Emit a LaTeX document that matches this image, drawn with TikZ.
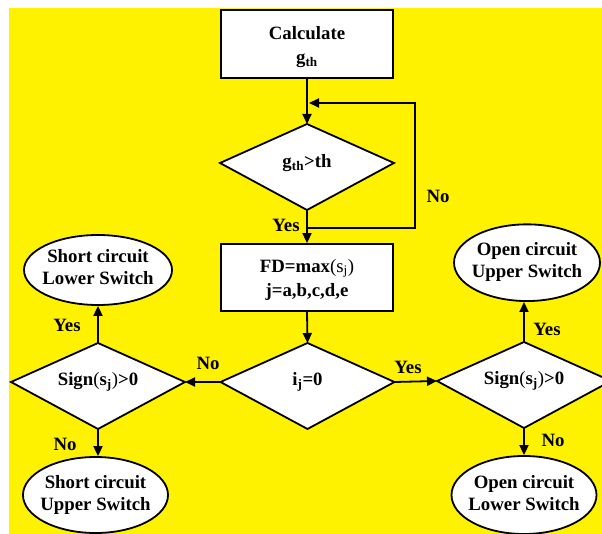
\documentclass[tikz,border=0pt]{standalone}
\usepackage{fontspec}
\setmainfont{Liberation Serif}
\usetikzlibrary{arrows.meta,shapes.geometric}
\newcommand\fcdiamond[4]{%
  \path (#2,#3) coordinate (#1)
     +(-87,0) coordinate (#1-w) +(87,0) coordinate (#1-e)
     +(0,-39) coordinate (#1-n) +(0,47) coordinate (#1-s);
  \draw[shp] (#1-w) -- (#1-n) -- (#1-e) -- (#1-s) -- cycle;
  \node[txt] (#1-t) at (#1) {#4};}
\begin{document}
\begin{tikzpicture}[x=1pt,y=-1pt,
  ln/.style={line width=1.8pt},
  arr/.style={ln,-{Triangle[length=10pt,width=9pt]}},
  shp/.style={draw,ln,fill=white},
  boxshape/.style={shp,rectangle,inner sep=0pt},
  ellshape/.style={shp,ellipse,inner sep=0pt},
  txt/.style={font={\fontsize{18.8}{24}\selectfont\bfseries},align=center,inner sep=0pt},
  etxt/.style={txt,font={\fontsize{18.8}{22}\selectfont\bfseries}},
  lbl/.style={font={\fontsize{18.8}{22}\selectfont\bfseries},inner sep=0pt},
]
\useasboundingbox (0,0) rectangle (602,534);
\fill[white] (0,0) rectangle (602,534);
\fill[yellow] (9,8) rectangle (602,534);

% boxes
\node[boxshape,minimum width=172.6,minimum height=68.3] (b1) at (307,44.2) {};
\node[txt] (b1t) at (307,47) {Calculate\\g\textsubscript{th}};
\node[boxshape,minimum width=172.6,minimum height=67] (fd) at (307,277.5) {};
\node[txt] (fdt) at (307,279.5) {FD=max{\mdseries(s\textsubscript{j})}\\j=a,b,c,d,e};

% diamonds
\fcdiamond{d1}{307}{163}{g\textsubscript{th}>th}
\fcdiamond{d2}{307.5}{382}{i\textsubscript{j}=0}
\fcdiamond{dl}{98}{382}{Sign{\mdseries(}s\textsubscript{j}{\mdseries)}>0}
\fcdiamond{dr}{524}{381}{Sign{\mdseries(}s\textsubscript{j}{\mdseries)}>0}

% ellipses
\node[ellshape,minimum width=148,minimum height=70] (scl) at (98,270) {};
\node[etxt] (sclt) at (98,267) {Short circuit\\Lower Switch};
\node[ellshape,minimum width=145,minimum height=76] (scu) at (95.5,495) {};
\node[etxt] (scut) at (95.5,495) {Short circuit\\Upper Switch};
\node[ellshape,minimum width=146,minimum height=76.7] (ocu) at (527,262.7) {};
\node[etxt] (ocut) at (527,262) {Open circuit\\Upper Switch};
\node[ellshape,minimum width=145,minimum height=78] (ocl) at (524,495) {};
\node[etxt] (oclt) at (524,493) {Open circuit\\Lower Switch};

% connectors
\coordinate (j1) at (307,228);
\coordinate (j2) at (309,103);
\draw[arr] (b1.south) -- (d1-n);
\draw[arr] (d1-s) -- (fd.north);
\draw[arr] (j1) -- ++(108,0) |- (j2);
\draw[arr] (fd.south) -- (d2-n);
\draw[arr] (d2-w) -- (dl-e);
\draw[arr] (d2-e) -- (dr-w);
\draw[arr] (dl-n) -- (dl-n |- scl.south);
\draw[arr] (dl-s) -- (dl-s |- scu.north);
\draw[arr] (dr-n) -- (dr-n |- ocu.south);
\draw[arr] (dr-s) -- (dr-s |- ocl.north);

% labels
\node[lbl] (yes1) at (286,225) {Yes};
\node[lbl] (no1) at (438,196) {No};
\node[lbl] (no2) at (208,363) {No};
\node[lbl] (yes2) at (408,367) {Yes};
\node[lbl] (yes3) at (67,325) {Yes};
\node[lbl] (no3) at (65,444) {No};
\node[lbl] (yes4) at (547,329) {Yes};
\node[lbl] (no4) at (553,440) {No};
\end{tikzpicture}
\end{document}
